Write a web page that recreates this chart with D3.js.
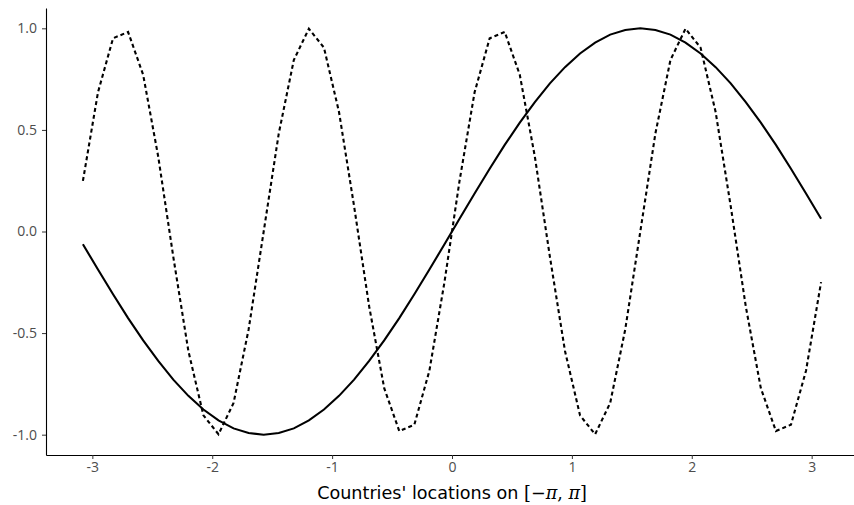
<!DOCTYPE html>
<html>
<head>
<meta charset="utf-8">
<script src="https://cdn.jsdelivr.net/npm/d3@7"></script>
<style>
  body { margin: 0; background: #fff; }
  svg { display: block; }
</style>
</head>
<body>
<script>
// country locations on [-pi, pi] (50 evenly spaced points)
const locations = [
  -3.0788, -2.9531, -2.8274, -2.7018, -2.5761, -2.4504, -2.3248, -2.1991, -2.0735, -1.9478,
  -1.8221, -1.6965, -1.5708, -1.4451, -1.3195, -1.1938, -1.0681, -0.9425, -0.8168, -0.6912,
  -0.5655, -0.4398, -0.3142, -0.1885, -0.0628,  0.0628,  0.1885,  0.3142,  0.4398,  0.5655,
   0.6912,  0.8168,  0.9425,  1.0681,  1.1938,  1.3195,  1.4451,  1.5708,  1.6965,  1.8221,
   1.9478,  2.0735,  2.1991,  2.3248,  2.4504,  2.5761,  2.7018,  2.8274,  2.9531,  3.0788
];

// solid series
const slowWave = [
  -0.063, -0.187, -0.309, -0.426, -0.536, -0.637, -0.729, -0.809, -0.876, -0.930,
  -0.969, -0.992, -1.000, -0.992, -0.969, -0.930, -0.876, -0.809, -0.729, -0.637,
  -0.536, -0.426, -0.309, -0.187, -0.063,  0.063,  0.187,  0.309,  0.426,  0.536,
   0.637,  0.729,  0.809,  0.876,  0.930,  0.969,  0.992,  1.000,  0.992,  0.969,
   0.930,  0.876,  0.809,  0.729,  0.637,  0.536,  0.426,  0.309,  0.187,  0.063
];

// dashed series
const fastWave = [
   0.249,  0.685,  0.951,  0.982,  0.771,  0.368, -0.125, -0.588, -0.905, -0.998,
  -0.844, -0.482,  0.000,  0.482,  0.844,  0.998,  0.905,  0.588,  0.125, -0.368,
  -0.771, -0.982, -0.951, -0.685, -0.249,  0.249,  0.685,  0.951,  0.982,  0.771,
   0.368, -0.125, -0.588, -0.905, -0.998, -0.844, -0.482,  0.000,  0.482,  0.844,
   0.998,  0.905,  0.588,  0.125, -0.368, -0.771, -0.982, -0.951, -0.685, -0.249
];

const xTicks = [-3, -2, -1, 0, 1, 2, 3];
const yTicks = [-1, -0.5, 0, 0.5, 1];

const W = 854, H = 505;
const margin = {top: 8, right: -4, bottom: 50, left: 46};
const width = W - margin.left - margin.right,
      height = H - margin.top - margin.bottom;

const svg = d3.select("body").append("svg")
    .attr("width", W)
    .attr("height", H);

const g = svg.append("g")
    .attr("transform", `translate(${margin.left},${margin.top})`);

const xPad = (d3.max(locations) - d3.min(locations)) * 0.05;
const x = d3.scaleLinear()
    .domain([d3.min(locations) - xPad, d3.max(locations) + xPad])
    .range([0, width]);

const y = d3.scaleLinear()
    .domain([-1.1, 1.1])
    .range([height, 0]);

// ascii hyphen for negatives, like the original
const hy = s => s.replace("\u2212", "-");

const xAxis = g.append("g")
    .attr("transform", `translate(0,${height})`)
    .call(d3.axisBottom(x).tickValues(xTicks).tickSize(4).tickSizeOuter(0).tickPadding(3)
      .tickFormat(d => hy(d3.format("d")(d))));
const yAxis = g.append("g")
    .call(d3.axisLeft(y).tickValues(yTicks).tickSize(4).tickSizeOuter(0).tickPadding(5)
      .tickFormat(d => hy(d3.format(".1f")(d))));

[xAxis, yAxis].forEach(ax => {
  ax.select(".domain").attr("stroke", "#000").attr("stroke-width", 1.1);
  ax.selectAll(".tick line").attr("stroke", "#333").attr("stroke-width", 1);
  ax.selectAll(".tick text")
    .attr("fill", "#4d4d4d")
    .style("font-family", "'Open Sans', sans-serif")
    .style("font-size", "14px");
});

const pts = locations.map((d, i) => ({x: d, a: slowWave[i], b: fastWave[i]}));

g.append("path")
    .datum(pts)
    .attr("fill", "none")
    .attr("stroke", "#000")
    .attr("stroke-width", 2.1)
    .attr("stroke-dasharray", "4,3")
    .attr("d", d3.line().x(d => x(d.x)).y(d => y(d.b)));

g.append("path")
    .datum(pts)
    .attr("fill", "none")
    .attr("stroke", "#000")
    .attr("stroke-width", 2.1)
    .attr("d", d3.line().x(d => x(d.x)).y(d => y(d.a)));

// axis title
const title = svg.append("text")
    .attr("x", margin.left + x(0))
    .attr("y", 499)
    .attr("text-anchor", "middle")
    .style("font-family", "'DejaVu Sans', sans-serif")
    .style("font-size", "17.6px")
    .attr("fill", "#000");
title.append("tspan").text("Countries' locations on ");
title.append("tspan").style("font-family", "'DejaVu Serif', serif").text("[\u2212");
title.append("tspan").style("font-family", "'DejaVu Serif', serif").style("font-style", "italic").text("\u03C0");
title.append("tspan").style("font-family", "'DejaVu Serif', serif").text(", ");
title.append("tspan").style("font-family", "'DejaVu Serif', serif").style("font-style", "italic").text("\u03C0");
title.append("tspan").style("font-family", "'DejaVu Serif', serif").text("]");
</script>
</body>
</html>
